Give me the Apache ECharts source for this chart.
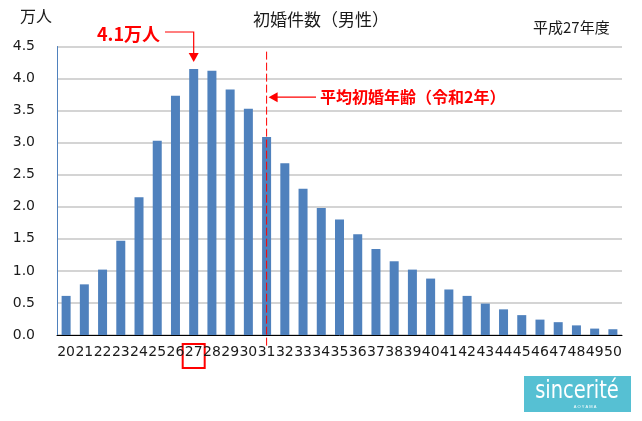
<!DOCTYPE html>
<html><head><meta charset="utf-8">
<script src="https://cdn.jsdelivr.net/npm/echarts@6/dist/echarts.min.js"></script>
<style>html,body{margin:0;padding:0;background:#fff}#c{width:642px;height:421px}</style>
</head><body><div id="c"></div>
<script>
const ages = ['20','21','22','23','24','25','26','27','28','29','30','31','32','33','34','35','36','37','38','39','40','41','42','43','44','45','46','47','48','49','50'];
const counts = [0.61,0.79,1.02,1.47,2.15,3.03,3.73,4.15,4.12,3.83,3.53,3.09,2.68,2.28,1.98,1.80,1.57,1.34,1.15,1.02,0.88,0.71,0.61,0.49,0.40,0.31,0.24,0.20,0.15,0.10,0.09];
const yTicks = [0,0.5,1.0,1.5,2.0,2.5,3.0,3.5,4.0,4.5];
const peakAge = '27';
const peakValue = 4.15;
const avgAge = '31';
const avgArrowValue = 3.71;

const JP = '"Noto Sans CJK JP","Noto Sans",sans-serif';
const NUM = '"DejaVu Sans",sans-serif';
const chart = echarts.init(document.getElementById('c'), null, {renderer:'canvas'});
chart.setOption({
  animation:false,
  grid:{left:57,right:20,top:46.5,bottom:86,containLabel:false},
  xAxis:{type:'category',data:ages,
    axisLine:{lineStyle:{color:'#000',width:1}},axisTick:{show:false},
    axisLabel:{interval:0,color:'#1a1a1a',fontFamily:NUM,fontSize:14,margin:10}},
  yAxis:{type:'value',min:yTicks[0],max:yTicks[yTicks.length-1],interval:0.5,
    axisLine:{show:true,lineStyle:{color:'#4f81bd',width:1}},axisTick:{show:false},
    splitLine:{lineStyle:{color:'#c6c6c6',width:1.5}},
    axisLabel:{formatter:v=>v.toFixed(1),color:'#1a1a1a',fontFamily:NUM,fontSize:14,margin:22}},
  series:[{type:'bar',data:counts,barWidth:9,itemStyle:{color:'#4f81bd'}}]
});
const pk = chart.convertToPixel({seriesIndex:0},[peakAge,peakValue]);
const av = chart.convertToPixel({seriesIndex:0},[avgAge,avgArrowValue]);
const avTop = chart.convertToPixel({seriesIndex:0},[avgAge,4.42]);
const avBot = chart.convertToPixel({seriesIndex:0},[avgAge,-0.17]);
const lbl = chart.convertToPixel({xAxisIndex:0},peakAge);
const red = '#ff0000';
chart.setOption({graphic:[
  {type:'text',left:20,top:8,style:{text:'万人',font:'16px '+JP,fill:'#1a1a1a'}},
  {type:'text',x:321,y:20,style:{text:'初婚件数（男性）',font:'17px '+JP,fill:'#1a1a1a',align:'center',verticalAlign:'middle'}},
  {type:'text',x:533,y:27,style:{text:'平成27年度',font:'15px '+JP,fill:'#1a1a1a',verticalAlign:'middle'}},
  {type:'text',x:97,y:34,style:{text:'4.1万人',font:'bold 18px '+JP,fill:red,verticalAlign:'middle'}},
  {type:'polyline',shape:{points:[[165,32],[pk[0],32],[pk[0],pk[1]-14]]},style:{stroke:red,lineWidth:1.2,fill:null}},
  {type:'polygon',shape:{points:[[pk[0]-5,pk[1]-16],[pk[0]+5,pk[1]-16],[pk[0],pk[1]-7]]},style:{fill:red}},
  {type:'line',z:10,shape:{x1:avTop[0],y1:avTop[1],x2:avBot[0],y2:avBot[1]},style:{stroke:red,lineWidth:1,lineDash:[8,3]}},
  {type:'line',shape:{x1:316,y1:av[1],x2:av[0]+9,y2:av[1]},style:{stroke:red,lineWidth:1.2}},
  {type:'polygon',shape:{points:[[av[0]+11,av[1]-5],[av[0]+11,av[1]+5],[av[0]+2,av[1]]]},style:{fill:red}},
  {type:'text',x:320,y:av[1],style:{text:'平均初婚年齢（令和2年）',font:'bold 16px '+JP,fill:red,verticalAlign:'middle'}},
  {type:'rect',shape:{x:lbl-11,y:344,width:22,height:24},style:{fill:null,stroke:red,lineWidth:2}},
  {type:'rect',shape:{x:524,y:376,width:107,height:36},style:{fill:'#56c0d3'}},
  {type:'text',x:577,y:391,scaleX:0.78,z:20,style:{text:'sincerité',font:'25px "DejaVu Sans",sans-serif',fill:'#fff',align:'center',verticalAlign:'middle'}},
  {type:'text',x:585,y:407,z:20,style:{text:'A O Y A M A',font:'4px sans-serif',fill:'#fff',align:'center',verticalAlign:'middle'}}
]});
</script></body></html>
